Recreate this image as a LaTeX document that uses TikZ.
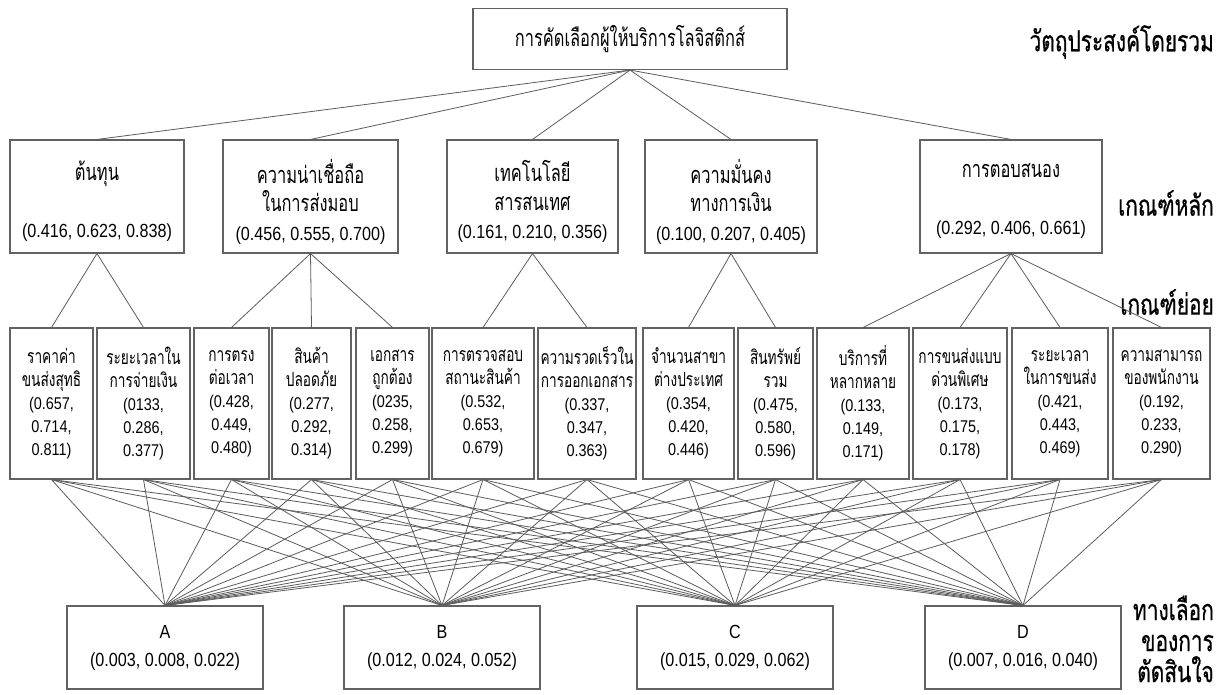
\documentclass[tikz,border=0pt]{standalone}
\usepackage{fontspec}
\setmainfont{Liberation Sans}
\newfontfamily\thai[Script=Thai,FakeStretch=0.7]{Loma}
\newfontfamily\thaibold[Script=Thai,FakeStretch=0.72,FakeBold=0.6]{Loma}
\newfontfamily\val[FakeStretch=0.85]{Liberation Sans}
\definecolor{boxc}{HTML}{626262}
\definecolor{linec}{HTML}{5c5c5c}
\begin{document}
\begin{tikzpicture}[x=1pt,y=-1pt,
  box/.style={draw=boxc,line width=1.1pt,inner sep=0pt,fill=white,align=center},
  link/.style={draw=linec,line width=0.8pt},
  toptxt/.style={font=\thai\fontsize{23.5}{26}\selectfont},
  crittxt/.style={align=center,inner sep=0pt,font=\thai\fontsize{23.5}{28.5}\selectfont},
  subbox/.style={box,minimum height=151pt,font=\thai\fontsize{19.5}{23}\selectfont},
  altbox/.style={box,minimum width=196pt,minimum height=83pt,font=\val\fontsize{19}{28}\selectfont},
  lvl/.style={font=\thaibold\fontsize{29}{32}\selectfont,align=right,inner sep=0pt,anchor=east}
]
\useasboundingbox[fill=white] (0,0) rectangle (1222,695);

% goal
\node[box,minimum width=314pt,minimum height=61pt,toptxt] (top) at (630,39) {การคัดเลือกผู้ให้บริการโลจิสติกส์};

% criteria
\node[box,minimum width=174pt,minimum height=113pt] (c1) at (97,196.5) {};
\node[box,minimum width=175pt,minimum height=113pt] (c2) at (310.5,196.5) {};
\node[box,minimum width=171pt,minimum height=113pt] (c3) at (532.5,196.5) {};
\node[box,minimum width=172pt,minimum height=113pt] (c4) at (731,196.5) {};
\node[box,minimum width=182pt,minimum height=113pt] (c5) at (1011,196.5) {};
\newcommand\cv[1]{{\val\fontsize{19}{28.5}\selectfont #1}}
\node[crittxt] (c1t) at ([yshift=-5pt]c1.center) {ต้นทุน\\\mbox{}\\\cv{(0.416, 0.623, 0.838)}};
\node[crittxt] (c2t) at ([yshift=-5pt]c2.center) {ความน่าเชื่อถือ\\ในการส่งมอบ\\\cv{(0.456, 0.555, 0.700)}};
\node[crittxt] (c3t) at ([yshift=-5pt]c3.center) {เทคโนโลยี\\สารสนเทศ\\\cv{(0.161, 0.210, 0.356)}};
\node[crittxt] (c4t) at ([yshift=-5pt]c4.center) {ความมั่นคง\\ทางการเงิน\\\cv{(0.100, 0.207, 0.405)}};
\node[crittxt] (c5t) at ([yshift=-5pt]c5.center) {การตอบสนอง\\\mbox{}\\\cv{(0.292, 0.406, 0.661)}};

% sub-criteria
\newcommand\vv[1]{{\val\fontsize{17}{23}\selectfont #1}}
\node[subbox,minimum width=83pt] (s1) at (51.5,403.5) {ราคาค่า\\ขนส่งสุทธิ\\\vv{(0.657,}\\\vv{0.714,}\\\vv{0.811)}};
\node[subbox,minimum width=93pt] (s2) at (143.5,403.5) {ระยะเวลาใน\\การจ่ายเงิน\\\vv{(0133,}\\\vv{0.286,}\\\vv{0.377)}};
\node[subbox,minimum width=75pt] (s3) at (231.5,403.5) {การตรง\\ต่อเวลา\\\vv{(0.428,}\\\vv{0.449,}\\\vv{0.480)}};
\node[subbox,minimum width=79pt] (s4) at (311.5,403.5) {สินค้า\\ปลอดภัย\\\vv{(0.277,}\\\vv{0.292,}\\\vv{0.314)}};
\node[subbox,minimum width=73pt] (s5) at (392.5,403.5) {เอกสาร\\ถูกต้อง\\\vv{(0235,}\\\vv{0.258,}\\\vv{0.299)}};
\node[subbox,minimum width=102pt] (s6) at (483,403.5) {การตรวจสอบ\\สถานะสินค้า\\\vv{(0.532,}\\\vv{0.653,}\\\vv{0.679)}};
\node[subbox,minimum width=98pt] (s7) at (587,403.5) {ความรวดเร็วใน\\การออกเอกสาร\\\vv{(0.337,}\\\vv{0.347,}\\\vv{0.363)}};
\node[subbox,minimum width=91pt] (s8) at (688.5,403.5) {จำนวนสาขา\\ต่างประเทศ\\\vv{(0.354,}\\\vv{0.420,}\\\vv{0.446)}};
\node[subbox,minimum width=75pt] (s9) at (775.5,403.5) {สินทรัพย์\\รวม\\\vv{(0.475,}\\\vv{0.580,}\\\vv{0.596)}};
\node[subbox,minimum width=92pt] (s10) at (863,403.5) {บริการที่\\หลากหลาย\\\vv{(0.133,}\\\vv{0.149,}\\\vv{0.171)}};
\node[subbox,minimum width=94pt] (s11) at (960,403.5) {การขนส่งแบบ\\ด่วนพิเศษ\\\vv{(0.173,}\\\vv{0.175,}\\\vv{0.178)}};
\node[subbox,minimum width=96pt] (s12) at (1060,403.5) {ระยะเวลา\\ในการขนส่ง\\\vv{(0.421,}\\\vv{0.443,}\\\vv{0.469)}};
\node[subbox,minimum width=97pt] (s13) at (1161.5,403.5) {ความสามารถ\\ของพนักงาน\\\vv{(0.192,}\\\vv{0.233,}\\\vv{0.290)}};

% alternatives
\node[altbox] (A) at (165,647.5) {A\\(0.003, 0.008, 0.022)};
\node[altbox] (B) at (442,647.5) {B\\(0.012, 0.024, 0.052)};
\node[altbox] (C) at (735,647.5) {C\\(0.015, 0.029, 0.062)};
\node[altbox] (D) at (1023,647.5) {D\\(0.007, 0.016, 0.040)};

% level labels
\node[lvl] (l1) at (1214,42) {วัตถุประสงค์โดยรวม};
\node[lvl] (l2) at (1214,203) {เกณฑ์หลัก};
\node[lvl] (l3) at (1214,302) {เกณฑ์ย่อย};
\node[lvl,font=\thaibold\fontsize{29}{31}\selectfont] (l4) at (1214,639) {ทางเลือก\\ของการ\\ตัดสินใจ};

% connectors
\foreach \c in {c1,c2,c3,c4,c5} \draw[link] (top.south) -- (\c.north);
\foreach \s in {s1,s2} \draw[link] (c1.south) -- (\s.north);
\foreach \s in {s3,s4,s5} \draw[link] (c2.south) -- (\s.north);
\foreach \s in {s6,s7} \draw[link] (c3.south) -- (\s.north);
\foreach \s in {s8,s9} \draw[link] (c4.south) -- (\s.north);
\foreach \s in {s10,s11,s12,s13} \draw[link] (c5.south) -- (\s.north);
\foreach \s in {s1,s2,s3,s4,s5,s6,s7,s8,s9,s10,s11,s12,s13}
  \foreach \a in {A,B,C,D}
    \draw[link] (\s.south) -- (\a.north);
\end{tikzpicture}
\end{document}
